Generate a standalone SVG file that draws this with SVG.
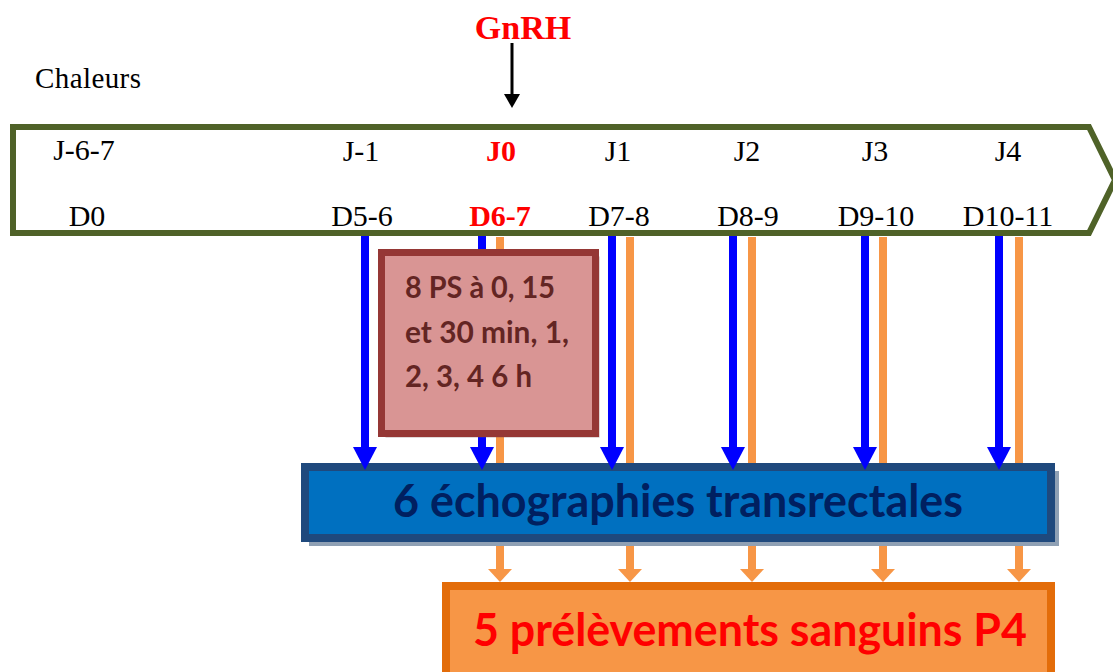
<svg xmlns="http://www.w3.org/2000/svg" width="1113" height="672" viewBox="0 0 1113 672">
<style>
.lbl{font-family:"Liberation Serif","Times New Roman",serif;font-size:30px;fill:#000;text-anchor:middle}
.red{fill:#FF0000;font-weight:bold}
.cal{font-family:Lato,"Noto Sans",sans-serif;font-weight:bold}
.blue{stroke:#0000FF;stroke-width:8;fill:none}
.orng{stroke:#F79646;stroke-width:8;fill:none}
</style>
<defs>
<marker id="ab" viewBox="0 -12 23 24" refX="0" refY="0" markerWidth="23" markerHeight="24" markerUnits="userSpaceOnUse" orient="auto">
<path d="M0,-12 L23,0 L0,12 Z" fill="#0000FF"/>
</marker>
<marker id="ao" viewBox="0 -12 13 24" refX="0" refY="0" markerWidth="13" markerHeight="24" markerUnits="userSpaceOnUse" orient="auto">
<path d="M0,-12 L13,0 L0,12 Z" fill="#F79646"/>
</marker>
<marker id="ak" viewBox="0 -8 14 16" refX="0" refY="0" markerWidth="14" markerHeight="16" markerUnits="userSpaceOnUse" orient="auto">
<path d="M0,-8 L14,0 L0,8 Z" fill="#000"/>
</marker>
</defs>
<rect width="1113" height="672" fill="#fff"/>

<g id="gnrh">
<text x="523" y="39" font-family="Liberation Serif, serif" font-weight="bold" font-size="34" fill="#FF0000" text-anchor="middle">GnRH</text>
</g>
<g id="chaleurs">
<text x="35" y="88" font-family="Liberation Serif, serif" font-size="29" fill="#000" textLength="106">Chaleurs</text>
</g>

<g id="timeline">
<path d="M13,127 L1089,127 L1115,180 L1089,233 L13,233 Z" fill="#fff" stroke="#4F6228" stroke-width="6" stroke-linejoin="miter"/>
<text class="lbl" x="84" y="160">J-6-7</text>
<text class="lbl" x="87" y="226">D0</text>
<text class="lbl" x="361" y="161">J-1</text>
<text class="lbl" x="362" y="226">D5-6</text>
<text class="lbl red" x="501" y="161">J0</text>
<text class="lbl red" x="500" y="226">D6-7</text>
<text class="lbl" x="618" y="161">J1</text>
<text class="lbl" x="619" y="226">D7-8</text>
<text class="lbl" x="747" y="161">J2</text>
<text class="lbl" x="748" y="226">D8-9</text>
<text class="lbl" x="875" y="161">J3</text>
<text class="lbl" x="876" y="226">D9-10</text>
<text class="lbl" x="1008" y="161">J4</text>
<text class="lbl" x="1008" y="226">D10-11</text>
</g>

<g id="echographies">
<rect x="309" y="471" width="750" height="75" fill="#8FA0B4"/>
<rect x="305" y="467" width="746" height="71" fill="#0070C0" stroke="#1F497D" stroke-width="8"/>
<text class="cal" x="678" y="517" font-size="46" fill="#002060" text-anchor="middle" textLength="570" lengthAdjust="spacingAndGlyphs">6 échographies transrectales</text>
</g>

<g id="prelevements">
<rect x="446" y="586" width="605" height="110" fill="#F79646" stroke="#E36C09" stroke-width="8"/>
<text class="cal" x="750" y="646" font-size="46" fill="#FF0000" text-anchor="middle" textLength="554" lengthAdjust="spacingAndGlyphs">5 prélèvements sanguins P4</text>
</g>

<g id="connectors">
<line x1="512" y1="43" x2="512" y2="94" stroke="#000" stroke-width="3" marker-end="url(#ak)"/>
<line class="blue" x1="365" y1="236" x2="365" y2="447" marker-end="url(#ab)"/>
<line class="blue" x1="482" y1="236" x2="482" y2="447" marker-end="url(#ab)"/>
<line class="blue" x1="612" y1="236" x2="612" y2="447" marker-end="url(#ab)"/>
<line class="blue" x1="733" y1="236" x2="733" y2="447" marker-end="url(#ab)"/>
<line class="blue" x1="865" y1="236" x2="865" y2="447" marker-end="url(#ab)"/>
<line class="blue" x1="999" y1="236" x2="999" y2="447" marker-end="url(#ab)"/>
<line class="orng" x1="500" y1="237" x2="500" y2="463"/>
<line class="orng" x1="630" y1="237" x2="630" y2="463"/>
<line class="orng" x1="752" y1="237" x2="752" y2="463"/>
<line class="orng" x1="883" y1="237" x2="883" y2="463"/>
<line class="orng" x1="1019" y1="237" x2="1019" y2="463"/>
<line class="orng" x1="500" y1="546" x2="500" y2="569" marker-end="url(#ao)"/>
<line class="orng" x1="630" y1="546" x2="630" y2="569" marker-end="url(#ao)"/>
<line class="orng" x1="752" y1="546" x2="752" y2="569" marker-end="url(#ao)"/>
<line class="orng" x1="883" y1="546" x2="883" y2="569" marker-end="url(#ao)"/>
<line class="orng" x1="1019" y1="546" x2="1019" y2="569" marker-end="url(#ao)"/>
</g>

<g id="ps">
<rect x="385.5" y="256.5" width="214" height="181" fill="#7A5050" fill-opacity="0.45"/>
<rect x="381.5" y="252.5" width="214" height="181" fill="#D99594" stroke="#953735" stroke-width="7"/>
<text class="cal" font-size="31" fill="#632523">
<tspan x="405" y="298" textLength="150" lengthAdjust="spacingAndGlyphs">8 PS à 0, 15</tspan>
<tspan x="405" y="343" textLength="164" lengthAdjust="spacingAndGlyphs">et 30 min, 1,</tspan>
<tspan x="405" y="387" textLength="127" lengthAdjust="spacingAndGlyphs">2, 3, 4 6 h</tspan>
</text>
</g>
</svg>
